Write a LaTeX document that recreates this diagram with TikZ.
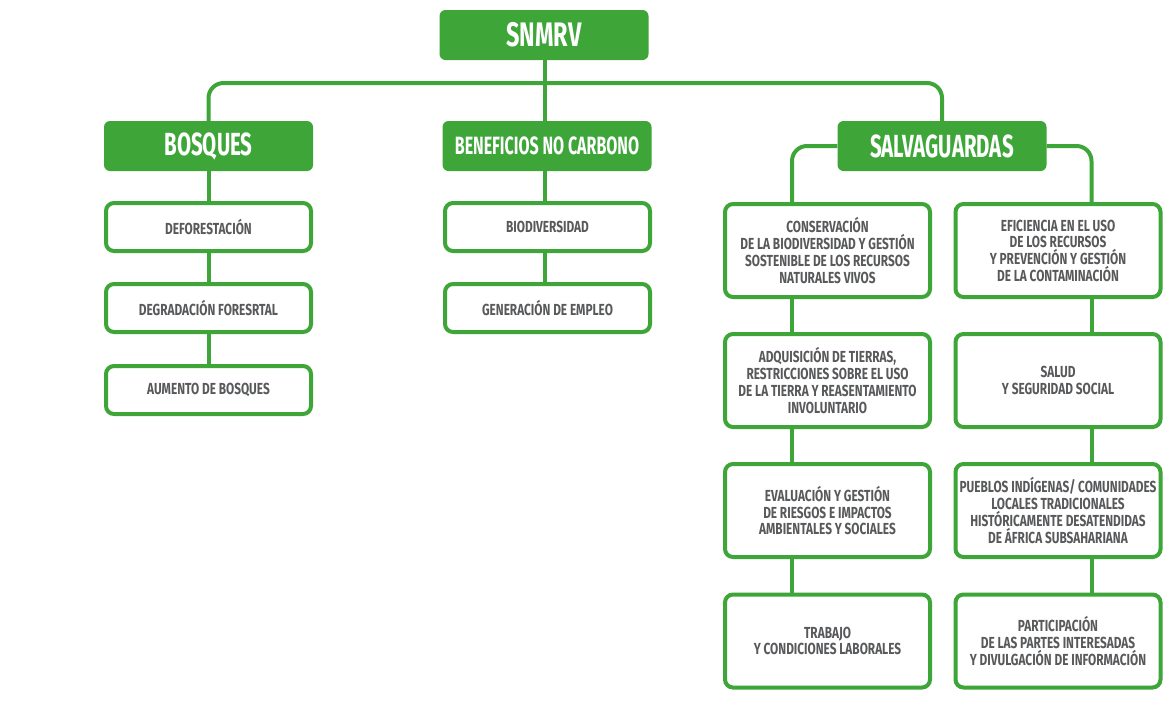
\documentclass[tikz,border=0pt]{standalone}
\usepackage{fontspec}
\newfontfamily\hdfont[FakeStretch=0.64]{Fira Sans}
\newfontfamily\topfont[FakeStretch=0.69]{Fira Sans}
\newfontfamily\txfont[FakeStretch=0.74]{Fira Sans}
\definecolor{grn}{RGB}{62,166,56}
\definecolor{txt}{RGB}{88,89,91}
\begin{document}
\begin{tikzpicture}[x=1pt,y=-1pt,
  head/.style={fill=grn, rounded corners=6pt, minimum width=209pt, minimum height=50pt, inner sep=0pt, text=white, font=\hdfont\bfseries\fontsize{32}{34}\selectfont},
  item/.style={draw=grn, line width=4pt, fill=white, rounded corners=8pt, minimum width=205pt, minimum height=48pt, inner sep=0pt, align=center, text=txt, font=\txfont\bfseries\fontsize{16}{16.7}\selectfont},
  tall/.style={item, minimum height=93pt},
  link/.style={draw=grn, line width=4pt, rounded corners=15pt}]
\useasboundingbox (0,0) rectangle (1170,705);
\fill[white] (0,0) rectangle (1170,705);
% headers
\node[head, font=\topfont\bfseries\fontsize{34}{36}\selectfont] (snmrv) at (544,35) {SNMRV};
\node[head] (bosq) at (208.5,146) {BOSQUES};
\node[head, font=\hdfont\bfseries\fontsize{25}{27}\selectfont] (benef) at (547,146) {BENEFICIOS NO CARBONO};
\node[head] (salv) at (942,146) {SALVAGUARDAS};
% bosques column
\node[item] (b1) at (208.5,227) {DEFORESTACIÓN};
\node[item] (b2) at (208.5,308) {DEGRADACIÓN FORESRTAL};
\node[item] (b3) at (208.5,390) {AUMENTO DE BOSQUES};
% beneficios column
\node[item] (n1) at (547.5,227) {BIODIVERSIDAD};
\node[item] (n2) at (547.5,308) {GENERACIÓN DE EMPLEO};
% salvaguardas left
\node[tall] (l1) at (827.5,250.5) {CONSERVACIÓN\\DE LA BIODIVERSIDAD Y GESTIÓN\\SOSTENIBLE DE LOS RECURSOS\\NATURALES VIVOS};
\node[tall] (l2) at (827.5,380.5) {ADQUISICIÓN DE TIERRAS,\\RESTRICCIONES SOBRE EL USO\\DE LA TIERRA Y REASENTAMIENTO\\INVOLUNTARIO};
\node[tall] (l3) at (827.5,510.5) {EVALUACIÓN Y GESTIÓN\\DE RIESGOS E IMPACTOS\\AMBIENTALES Y SOCIALES};
\node[tall] (l4) at (827.5,641) {TRABAJO\\Y CONDICIONES LABORALES};
% salvaguardas right
\node[tall] (r1) at (1058,250.5) {EFICIENCIA EN EL USO\\DE LOS RECURSOS\\Y PREVENCIÓN Y GESTIÓN\\DE LA CONTAMINACIÓN};
\node[tall] (r2) at (1058,380.5) {SALUD\\Y SEGURIDAD SOCIAL};
\node[tall] (r3) at (1058,510.5) {PUEBLOS INDÍGENAS/ COMUNIDADES\\LOCALES TRADICIONALES\\HISTÓRICAMENTE DESATENDIDAS\\DE ÁFRICA SUBSAHARIANA};
\node[tall] (r4) at (1058,641) {PARTICIPACIÓN\\DE LAS PARTES INTERESADAS\\Y DIVULGACIÓN DE INFORMACIÓN};
% connector anchor points
\coordinate (lc) at ([xshift=69pt]l1.north west);
\coordinate (rc) at ([xshift=138pt]r1.north west);
\coordinate (top) at (0,83);
\coordinate (snb) at (545,60);
\coordinate (bnt) at (545,121);
% connectors
\draw[link] (bosq.north) -- (bosq.north |- top) -- (salv.north |- top) -- (salv.north);
\draw[link, rounded corners=0] (snmrv.south -| snb) -- (benef.north -| bnt);
\draw[link] (salv.west) -| (lc);
\draw[link] (salv.east) -| (rc);
\draw[link] (bosq.south) -- (b1.north);
\draw[link] (b1.south) -- (b2.north);
\draw[link] (b2.south) -- (b3.north);
\draw[link] (benef.south -| bnt) -- (n1.north -| bnt);
\draw[link] (n1.south -| bnt) -- (n2.north -| bnt);
\draw[link] (l1.south -| lc) -- (l2.north -| lc);
\draw[link] (l2.south -| lc) -- (l3.north -| lc);
\draw[link] (l3.south -| lc) -- (l4.north -| lc);
\draw[link] (r1.south -| rc) -- (r2.north -| rc);
\draw[link] (r2.south -| rc) -- (r3.north -| rc);
\draw[link] (r3.south -| rc) -- (r4.north -| rc);
\end{tikzpicture}
\end{document}
